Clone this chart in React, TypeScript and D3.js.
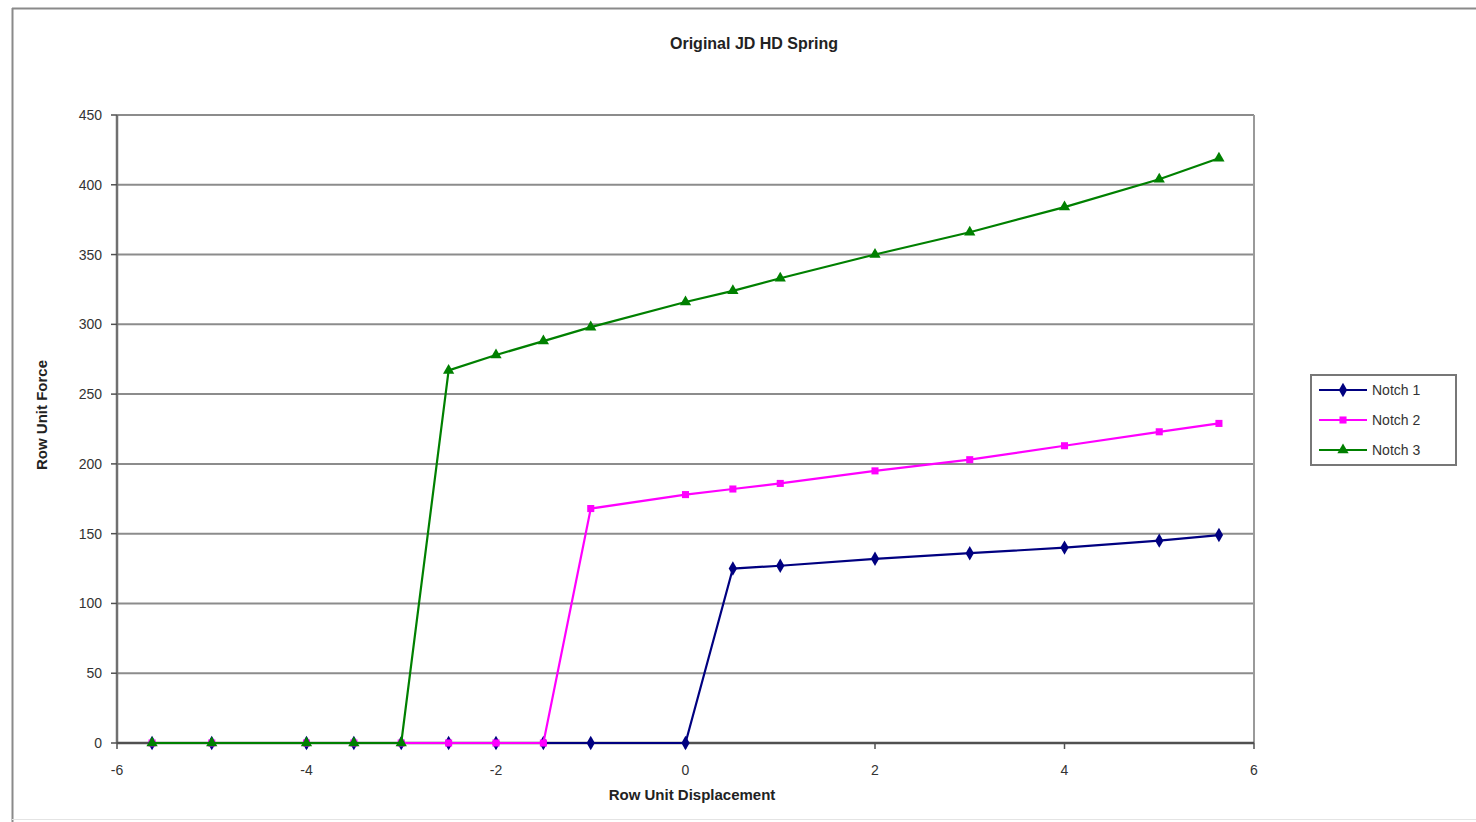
import React from "react";
import * as d3 from "d3";

const xValues = [-5.63, -5, -4, -3.5, -3, -2.5, -2, -1.5, -1, 0, 0.5, 1, 2, 3, 4, 5, 5.63];
const notch1 = [0, 0, 0, 0, 0, 0, 0, 0, 0, 0, 125, 127, 132, 136, 140, 145, 149];
const notch2 = [0, 0, 0, 0, 0, 0, 0, 0, 168, 178, 182, 186, 195, 203, 213, 223, 229];
const notch3 = [0, 0, 0, 0, 0, 267, 278, 288, 298, 316, 324, 333, 350, 366, 384, 404, 419];
const seriesNames = ["Notch 1", "Notch 2", "Notch 3"];
const xTicks = [-6, -4, -2, 0, 2, 4, 6];
const yTicks = [0, 50, 100, 150, 200, 250, 300, 350, 400, 450];

const colors = ["#000080", "#ff00ff", "#008000"];
const markerTypes = [d3.symbolDiamond, d3.symbolSquare, d3.symbolTriangle];
const markerSizes = [60, 50, 55];

export default function App() {
  const W = 1476, H = 822;
  const left = 117, right = 1254, top = 115, bottom = 743;
  const x = d3.scaleLinear().domain([-6, 6]).range([left, right]);
  const y = d3.scaleLinear().domain([0, 450]).range([bottom, top]);
  const allSeries = [notch1, notch2, notch3];
  const line = d3.line<number>().x((_, i) => x(xValues[i])).y((d) => y(d));
  const font = "'Liberation Sans', Arial, sans-serif";

  return (
    <svg width={W} height={H} style={{ position: "absolute", left: 0, top: 0, background: "#fff" }} fontFamily={font}>
      <rect x={0} y={0} width={W} height={H} fill="#fff" />
      {/* outer frame */}
      <line x1={12} y1={8.5} x2={W} y2={8.5} stroke="#8a8a8a" strokeWidth={2} />
      <line x1={12.5} y1={8} x2={12.5} y2={H} stroke="#8a8a8a" strokeWidth={2} />
      <line x1={12} y1={819.5} x2={W} y2={819.5} stroke="#e4e4e4" strokeWidth={1} />

      <text x={754} y={49} textAnchor="middle" fontSize={16} fontWeight="bold" fill="#222">Original JD HD Spring</text>

      {/* gridlines */}
      {yTicks.map((t) => (
        <line key={"g" + t} x1={left} x2={right} y1={y(t)} y2={y(t)} stroke="#8c8c8c" strokeWidth={2} />
      ))}
      {/* plot border right */}
      <line x1={right} x2={right} y1={top} y2={bottom} stroke="#9a9a9a" strokeWidth={2} />
      {/* axes */}
      <line x1={left} x2={left} y1={top} y2={bottom} stroke="#707070" strokeWidth={2.5} />
      <line x1={left} x2={right} y1={bottom} y2={bottom} stroke="#505050" strokeWidth={2.5} />
      {yTicks.map((t) => (
        <g key={"yt" + t}>
          <line x1={left - 6} x2={left} y1={y(t)} y2={y(t)} stroke="#505050" strokeWidth={1.5} />
          <text x={left - 15} y={y(t) + 5} textAnchor="end" fontSize={14} fill="#333">{t}</text>
        </g>
      ))}
      {xTicks.map((t) => (
        <g key={"xt" + t}>
          <line x1={x(t)} x2={x(t)} y1={bottom} y2={bottom + 6} stroke="#505050" strokeWidth={1.5} />
          <text x={x(t)} y={bottom + 32} textAnchor="middle" fontSize={14} fill="#333">{t}</text>
        </g>
      ))}
      <text x={692} y={800} textAnchor="middle" fontSize={15} fontWeight="bold" fill="#222">Row Unit Displacement</text>
      <text transform={`translate(47,${415}) rotate(-90)`} textAnchor="middle" fontSize={15} fontWeight="bold" fill="#222">Row Unit Force</text>

      {/* series */}
      {allSeries.map((s, si) => (
        <g key={"s" + si}>
          <path d={line(s) || ""} fill="none" stroke={colors[si]} strokeWidth={2.2} />
          {s.map((v, i) => (
            <path key={i} transform={`translate(${x(xValues[i])},${y(v)})`} d={d3.symbol().type(markerTypes[si]).size(markerSizes[si])() || ""} fill={colors[si]} />
          ))}
        </g>
      ))}

      {/* legend */}
      <rect x={1311} y={375} width={145} height={90} fill="#fff" stroke="#777" strokeWidth={2} />
      {seriesNames.map((n, i) => {
        const ly = 390 + i * 30;
        return (
          <g key={"l" + i}>
            <line x1={1319} x2={1367} y1={ly} y2={ly} stroke={colors[i]} strokeWidth={2.2} />
            <path transform={`translate(1343,${ly})`} d={d3.symbol().type(markerTypes[i]).size(markerSizes[i])() || ""} fill={colors[i]} />
            <text x={1372} y={ly + 5} fontSize={14} fill="#333">{n}</text>
          </g>
        );
      })}
    </svg>
  );
}
